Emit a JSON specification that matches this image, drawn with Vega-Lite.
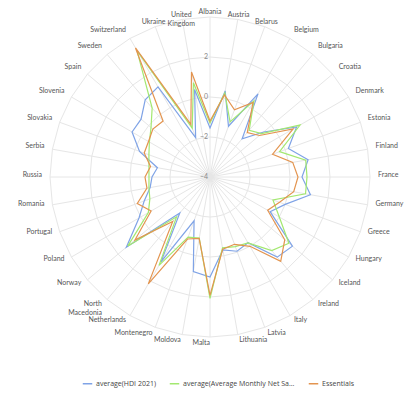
{
  "$schema": "https://vega.github.io/schema/vega-lite/v6.json",
  "width": 413,
  "height": 397,
  "autosize": "none",
  "padding": 0,
  "background": "white",
  "config": {"view": {"stroke": null}, "font": "Lato"},
  "datasets": {
    "countries": [
      {"country": "Albania", "hdi": -1.55, "salary": -1.3, "essentials": -1.2},
      {"country": "Austria", "hdi": 0.37, "salary": 0.27, "essentials": 0.17},
      {"country": "Belarus", "hdi": -1.3, "salary": -1.07, "essentials": -0.42},
      {"country": "Belgium", "hdi": 0.8, "salary": 0.4, "essentials": 0.3},
      {"country": "Bulgaria", "hdi": -1.5, "salary": -0.95, "essentials": -1.1},
      {"country": "Croatia", "hdi": -0.5, "salary": -0.63, "essentials": -0.77},
      {"country": "Denmark", "hdi": 1.0, "salary": 1.2, "essentials": 0.8},
      {"country": "Estonia", "hdi": 0.17, "salary": -0.3, "essentials": -0.67},
      {"country": "Finland", "hdi": 0.98, "salary": 0.86, "essentials": 0.2},
      {"country": "France", "hdi": 0.6, "salary": 0.85, "essentials": 0.4},
      {"country": "Germany", "hdi": 1.1, "salary": 0.85, "essentials": 0.25},
      {"country": "Greece", "hdi": 0.0, "salary": -0.65, "essentials": -0.3},
      {"country": "Hungary", "hdi": -0.53, "salary": 0.0, "essentials": -0.67},
      {"country": "Iceland", "hdi": 1.38, "salary": 1.15, "essentials": 0.88},
      {"country": "Ireland", "hdi": 1.23, "salary": 0.8, "essentials": 1.5},
      {"country": "Italy", "hdi": -0.2, "salary": -0.2, "essentials": 0.0},
      {"country": "Latvia", "hdi": -0.05, "salary": -0.3, "essentials": -0.42},
      {"country": "Lithuania", "hdi": -0.3, "salary": -0.4, "essentials": -0.34},
      {"country": "Malta", "hdi": 1.0, "salary": 2.07, "essentials": 1.92},
      {"country": "Moldova", "hdi": 0.8, "salary": -0.9, "essentials": -0.88},
      {"country": "Montenegro", "hdi": -1.67, "salary": -0.8, "essentials": -0.7},
      {"country": "Netherlands", "hdi": 0.9, "salary": 1.1, "essentials": 2.17},
      {"country": "North Macedonia", "hdi": -1.65, "salary": -1.4, "essentials": -1.1},
      {"country": "Norway", "hdi": 1.46, "salary": 1.36, "essentials": 0.9},
      {"country": "Poland", "hdi": 0.1, "salary": -0.44, "essentials": -0.6},
      {"country": "Portugal", "hdi": -0.5, "salary": -0.8, "essentials": -0.13},
      {"country": "Romania", "hdi": -0.96, "salary": -0.9, "essentials": -0.8},
      {"country": "Russia", "hdi": -1.1, "salary": -0.95, "essentials": -0.75},
      {"country": "Serbia", "hdi": -1.33, "salary": -0.9, "essentials": -0.98},
      {"country": "Slovakia", "hdi": -0.25, "salary": -0.75, "essentials": -0.5},
      {"country": "Slovenia", "hdi": 0.5, "salary": -0.5, "essentials": -0.45},
      {"country": "Spain", "hdi": 0.5, "salary": -0.15, "essentials": -0.27},
      {"country": "Sweden", "hdi": 1.04, "salary": 0.5, "essentials": -0.35},
      {"country": "Switzerland", "hdi": 1.2, "salary": 3.3, "essentials": 3.45},
      {"country": "Ukraine", "hdi": -1.9, "salary": -1.4, "essentials": -1.2},
      {"country": "United Kingdom", "hdi": 0.44, "salary": 0.78, "essentials": 1.33}
    ],
    "rings": [{"v": -4}, {"v": -2}, {"v": 0}, {"v": 2}, {"v": 4}]
  },
  "layer": [
    {
      "data": {"name": "countries"},
      "transform": [
        {"window": [{"op": "row_number", "as": "i"}]},
        {"calculate": "(datum.i - 1) * 2 * PI / 36", "as": "a"},
        {"calculate": "[2, 4, 6, 8]", "as": "levels"},
        {"flatten": ["levels"]},
        {"calculate": "datum.levels * sin(datum.a)", "as": "gx"},
        {"calculate": "datum.levels * cos(datum.a)", "as": "gy"}
      ],
      "mark": {"type": "line", "interpolate": "linear-closed", "stroke": "#e6e6e6", "strokeWidth": 1},
      "encoding": {
        "x": {"field": "gx", "type": "quantitative", "scale": {"domain": [-10.5, 10.15], "nice": false, "zero": false}, "axis": null},
        "y": {"field": "gy", "type": "quantitative", "scale": {"domain": [-11, 8.85], "nice": false, "zero": false}, "axis": null},
        "detail": {"field": "levels", "type": "nominal"},
        "order": {"field": "i", "type": "quantitative"}
      }
    },
    {
      "data": {"name": "countries"},
      "transform": [
        {"window": [{"op": "row_number", "as": "i"}]},
        {"calculate": "(datum.i - 1) * 2 * PI / 36", "as": "a"},
        {"calculate": "0", "as": "zero"},
        {"calculate": "8 * sin(datum.a)", "as": "ox"},
        {"calculate": "8 * cos(datum.a)", "as": "oy"}
      ],
      "mark": {"type": "rule", "stroke": "#e6e6e6", "strokeWidth": 1},
      "encoding": {
        "x": {"field": "zero", "type": "quantitative", "scale": {"domain": [-10.5, 10.15], "nice": false, "zero": false}, "axis": null},
        "y": {"field": "zero", "type": "quantitative", "scale": {"domain": [-11, 8.85], "nice": false, "zero": false}, "axis": null},
        "x2": {"field": "ox"},
        "y2": {"field": "oy"}
      }
    },
    {
      "data": {"name": "rings"},
      "transform": [{"filter": "datum.v < 4"}, {"calculate": "datum.v + 4", "as": "r"}, {"calculate": "0", "as": "zero"}],
      "mark": {"type": "text", "align": "right", "baseline": "middle", "dx": -2, "fontSize": 7, "color": "#888"},
      "encoding": {
        "x": {"field": "zero", "type": "quantitative", "scale": {"domain": [-10.5, 10.15], "nice": false, "zero": false}, "axis": null},
        "y": {"field": "r", "type": "quantitative", "scale": {"domain": [-11, 8.85], "nice": false, "zero": false}, "axis": null},
        "text": {"field": "v", "type": "quantitative"}
      }
    },
    {
      "data": {"name": "countries"},
      "transform": [
        {"window": [{"op": "row_number", "as": "i"}]},
        {"calculate": "(datum.i - 1) * 2 * PI / 36", "as": "a"},
        {"fold": ["hdi", "salary", "essentials"], "as": ["series", "value"]},
        {"calculate": "datum.value + 4", "as": "r"},
        {"calculate": "datum.r * sin(datum.a)", "as": "px"},
        {"calculate": "datum.r * cos(datum.a)", "as": "py"}
      ],
      "mark": {"type": "line", "interpolate": "linear-closed", "strokeWidth": 1.2},
      "encoding": {
        "x": {"field": "px", "type": "quantitative", "scale": {"domain": [-10.5, 10.15], "nice": false, "zero": false}, "axis": null},
        "y": {"field": "py", "type": "quantitative", "scale": {"domain": [-11, 8.85], "nice": false, "zero": false}, "axis": null},
        "order": {"field": "i", "type": "quantitative"},
        "color": {
          "field": "series",
          "type": "nominal",
          "scale": {"domain": ["hdi", "salary", "essentials"], "range": ["#7fa3e6", "#a3e870", "#e3944f"]},
          "legend": {
            "orient": "none",
            "legendX": 82,
            "legendY": 378,
            "padding": 0,
            "direction": "horizontal",
            "title": null,
            "symbolType": "stroke",
            "symbolSize": 90,
            "symbolStrokeWidth": 1.5,
            "labelFont": "Open Sans",
            "labelFontSize": 7,
            "labelOffset": 3,
            "labelColor": "#444",
            "columnPadding": 10,
            "labelExpr": "datum.value == 'hdi' ? 'average(HDI 2021)' : datum.value == 'salary' ? 'average(Average Monthly Net Sa...' : 'Essentials'"
          }
        }
      }
    },
    {
      "data": {"name": "countries"},
      "transform": [
        {"window": [{"op": "row_number", "as": "i"}]},
        {"calculate": "(datum.i - 1) * 2 * PI / 36", "as": "a"},
        {"filter": "cos(datum.a) > 0.9"},
        {"calculate": "8.25 * sin(datum.a)", "as": "lx"},
        {"calculate": "8.25 * cos(datum.a)", "as": "ly"}
      ],
      "mark": {"type": "text", "align": "center", "baseline": "middle", "fontSize": 7, "color": "#555", "lineBreak": " "},
      "encoding": {
        "x": {"field": "lx", "type": "quantitative", "scale": {"domain": [-10.5, 10.15], "nice": false, "zero": false}, "axis": null},
        "y": {"field": "ly", "type": "quantitative", "scale": {"domain": [-11, 8.85], "nice": false, "zero": false}, "axis": null},
        "text": {"field": "country"}
      }
    },
    {
      "data": {"name": "countries"},
      "transform": [
        {"window": [{"op": "row_number", "as": "i"}]},
        {"calculate": "(datum.i - 1) * 2 * PI / 36", "as": "a"},
        {"filter": "cos(datum.a) <= 0.9 && sin(datum.a) > 0.01"},
        {"calculate": "8.4 * sin(datum.a)", "as": "lx"},
        {"calculate": "8.4 * cos(datum.a)", "as": "ly"}
      ],
      "mark": {"type": "text", "align": "left", "baseline": "middle", "dy": -2, "fontSize": 7, "color": "#555", "lineBreak": " "},
      "encoding": {
        "x": {"field": "lx", "type": "quantitative", "scale": {"domain": [-10.5, 10.15], "nice": false, "zero": false}, "axis": null},
        "y": {"field": "ly", "type": "quantitative", "scale": {"domain": [-11, 8.85], "nice": false, "zero": false}, "axis": null},
        "text": {"field": "country"}
      }
    },
    {
      "data": {"name": "countries"},
      "transform": [
        {"window": [{"op": "row_number", "as": "i"}]},
        {"calculate": "(datum.i - 1) * 2 * PI / 36", "as": "a"},
        {"filter": "cos(datum.a) <= 0.9 && sin(datum.a) <= 0.01"},
        {"calculate": "8.4 * sin(datum.a)", "as": "lx"},
        {"calculate": "8.4 * cos(datum.a)", "as": "ly"}
      ],
      "mark": {"type": "text", "align": "right", "baseline": "middle", "dy": -2, "fontSize": 7, "color": "#555", "lineBreak": " "},
      "encoding": {
        "x": {"field": "lx", "type": "quantitative", "scale": {"domain": [-10.5, 10.15], "nice": false, "zero": false}, "axis": null},
        "y": {"field": "ly", "type": "quantitative", "scale": {"domain": [-11, 8.85], "nice": false, "zero": false}, "axis": null},
        "text": {"field": "country"}
      }
    }
  ]
}
